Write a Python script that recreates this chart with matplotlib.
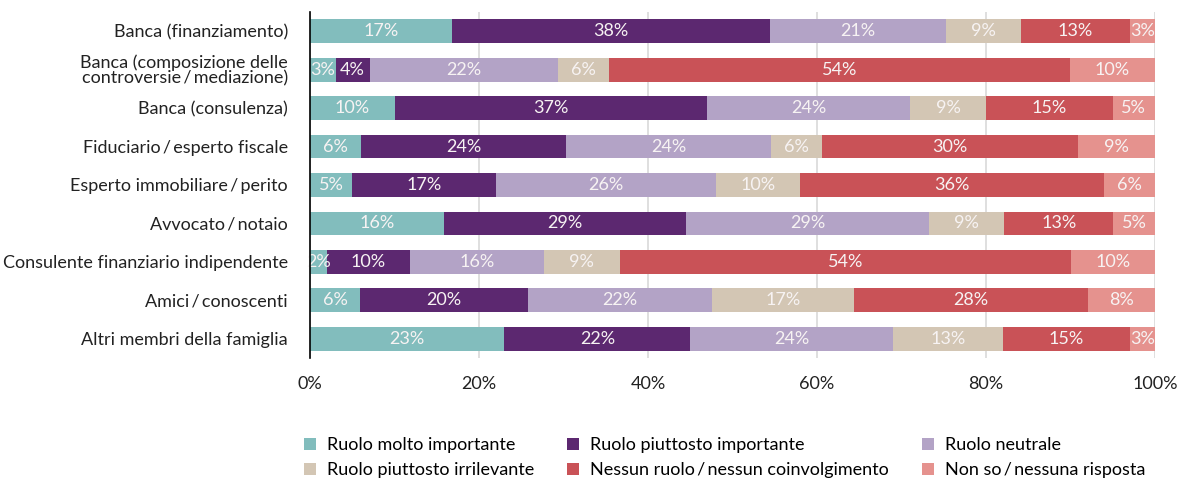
import matplotlib
matplotlib.use("Agg")
import matplotlib.pyplot as plt
import numpy as np

plt.rcParams['font.family'] = ['Lato', 'DejaVu Sans']

# categories, top to bottom
categories = [
    "Banca (finanziamento)",
    "Banca (composizione delle\ncontroversie\u2009/\u2009mediazione)",
    "Banca (consulenza)",
    "Fiduciario\u2009/\u2009esperto fiscale",
    "Esperto immobiliare\u2009/\u2009perito",
    "Avvocato\u2009/\u2009notaio",
    "Consulente finanziario indipendente",
    "Amici\u2009/\u2009conoscenti",
    "Altri membri della famiglia",
]

series_names = [
    "Ruolo molto importante",
    "Ruolo piuttosto importante",
    "Ruolo neutrale",
    "Ruolo piuttosto irrilevante",
    "Nessun ruolo\u2009/\u2009nessun coinvolgimento",
    "Non so\u2009/\u2009nessuna risposta",
]

molto = [17, 3, 10, 6, 5, 16, 2, 6, 23]
piuttosto = [38, 4, 37, 24, 17, 29, 10, 20, 22]
neutrale = [21, 22, 24, 24, 26, 29, 16, 22, 24]
irrilevante = [9, 6, 9, 6, 10, 9, 9, 17, 13]
nessun = [13, 54, 15, 30, 36, 13, 54, 28, 15]
nonso = [3, 10, 5, 9, 6, 5, 10, 8, 3]

colors = ["#82BDBD", "#5C2870", "#B3A3C6", "#D3C6B4", "#C95257", "#E5928E"]

data = np.array([molto, piuttosto, neutrale, irrilevante, nessun, nonso], dtype=float)
# rounded values don't always add up to 100, scale each row to fill the bar
widths = data / data.sum(axis=0) * 100

fs = 13

fig = plt.figure(figsize=(11.77, 4.79), dpi=100)
ax = fig.add_axes([310/1177, 1-358/479, 845/1177, 346/479])

y = np.arange(len(categories))
left = np.zeros(len(categories))
for i in range(len(series_names)):
    ax.barh(y, widths[i], left=left, height=0.62, color=colors[i],
            label=series_names[i], zorder=3)
    for j in range(len(categories)):
        ax.text(left[j] + widths[i][j]/2, y[j], "%d%%" % data[i][j],
                ha='center', va='center', color='#F7F3F3', fontsize=fs, zorder=4)
    left += widths[i]

ax.set_xlim(0, 100)
ax.set_ylim(len(categories) - 0.5, -0.5)
ax.set_xticks([0, 20, 40, 60, 80, 100])
ax.set_xticklabels(["0%", "20%", "40%", "60%", "80%", "100%"], fontsize=fs, color='#222222')
ax.set_yticks(y)
ax.set_yticklabels(categories, fontsize=fs, color='#222222', linespacing=0.95)
ax.tick_params(axis='both', length=0)
ax.tick_params(axis='x', pad=13)
ax.tick_params(axis='y', pad=16)
ax.grid(axis='x', color='#D9D9D9', linewidth=1.2, zorder=0)
for s in ['top', 'right', 'bottom']:
    ax.spines[s].set_visible(False)
ax.spines['left'].set_color('black')
ax.spines['left'].set_linewidth(1.2)
ax.spines['left'].set_zorder(5)

handles, labels = ax.get_legend_handles_labels()
order = [0, 3, 1, 4, 2, 5]
fig.legend([handles[k] for k in order], [labels[k] for k in order],
           loc='upper left', bbox_to_anchor=(304/1177, 1-437/479), ncol=3,
           frameon=False, fontsize=fs, handlelength=0.65, handleheight=0.65,
           handletextpad=0.6, columnspacing=1.85, labelspacing=0.5,
           borderaxespad=0, borderpad=0)

fig.savefig("out.png", dpi=100)
